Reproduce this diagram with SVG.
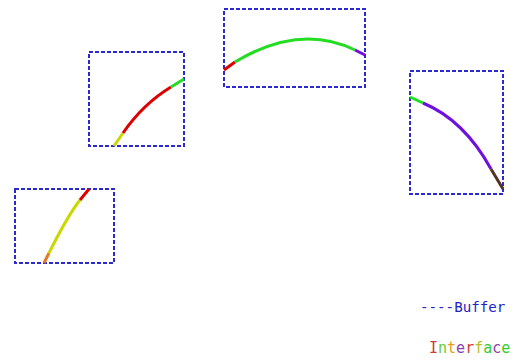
<svg xmlns="http://www.w3.org/2000/svg" width="524" height="362" viewBox="0 0 524 362">
<style>
.buf{fill:none;stroke:#2a2ad0;stroke-width:2;stroke-dasharray:4,2}
.seg{fill:none;stroke-width:3;stroke-linecap:butt}
.or{stroke:#e07a20}.ye{stroke:#c8d800}.re{stroke:#dd0000}.gr{stroke:#22dd22}.pu{stroke:#7010dd}.br{stroke:#553322}
.lg{font-family:"DejaVu Sans Mono",monospace;font-size:15px}
</style>
<rect width="524" height="362" fill="#ffffff"/>
<g id="node1">
<rect class="buf" x="15" y="189" width="99" height="74"/>
</g>
<g id="node2">
<rect class="buf" x="89" y="52" width="95" height="94"/>
</g>
<g id="node3">
<rect class="buf" x="224" y="9" width="141" height="78"/>
</g>
<g id="node4">
<rect class="buf" x="410" y="71" width="93" height="123"/>
</g>
<g id="connectors">
<path class="seg or" d="M44,263 L49,253"/>
<path class="seg ye" d="M49,253 Q68,215 80,200"/>
<path class="seg re" d="M80,200 L89,189"/>
<path class="seg ye" d="M114,146 L123,133"/>
<path class="seg re" d="M123,133 Q143,104 171,87"/>
<path class="seg gr" d="M171,87 L184,79"/>
<path class="seg re" d="M224,70 L235,62"/>
<path class="seg gr" d="M235,62 Q300,23 355,50"/>
<path class="seg pu" d="M355,50 L365,55"/>
<path class="seg gr" d="M410,97 L423,103"/>
<path class="seg pu" d="M423,103 Q464,120 491,169"/>
<path class="seg br" d="M491,169 L503,189"/>
</g>
<g id="legend">
<text class="lg" x="420" y="312" fill="#2222cc" style="font-size:14.2px">----Buffer</text>
<text class="lg" x="429" y="353"><tspan fill="#d03a3a">I</tspan><tspan fill="#66cc33">n</tspan><tspan fill="#e0a020">t</tspan><tspan fill="#8844aa">e</tspan><tspan fill="#d03a3a">r</tspan><tspan fill="#b8c030">f</tspan><tspan fill="#33cc33">a</tspan><tspan fill="#8844aa">c</tspan><tspan fill="#33cc33">e</tspan></text>
</g>
</svg>
